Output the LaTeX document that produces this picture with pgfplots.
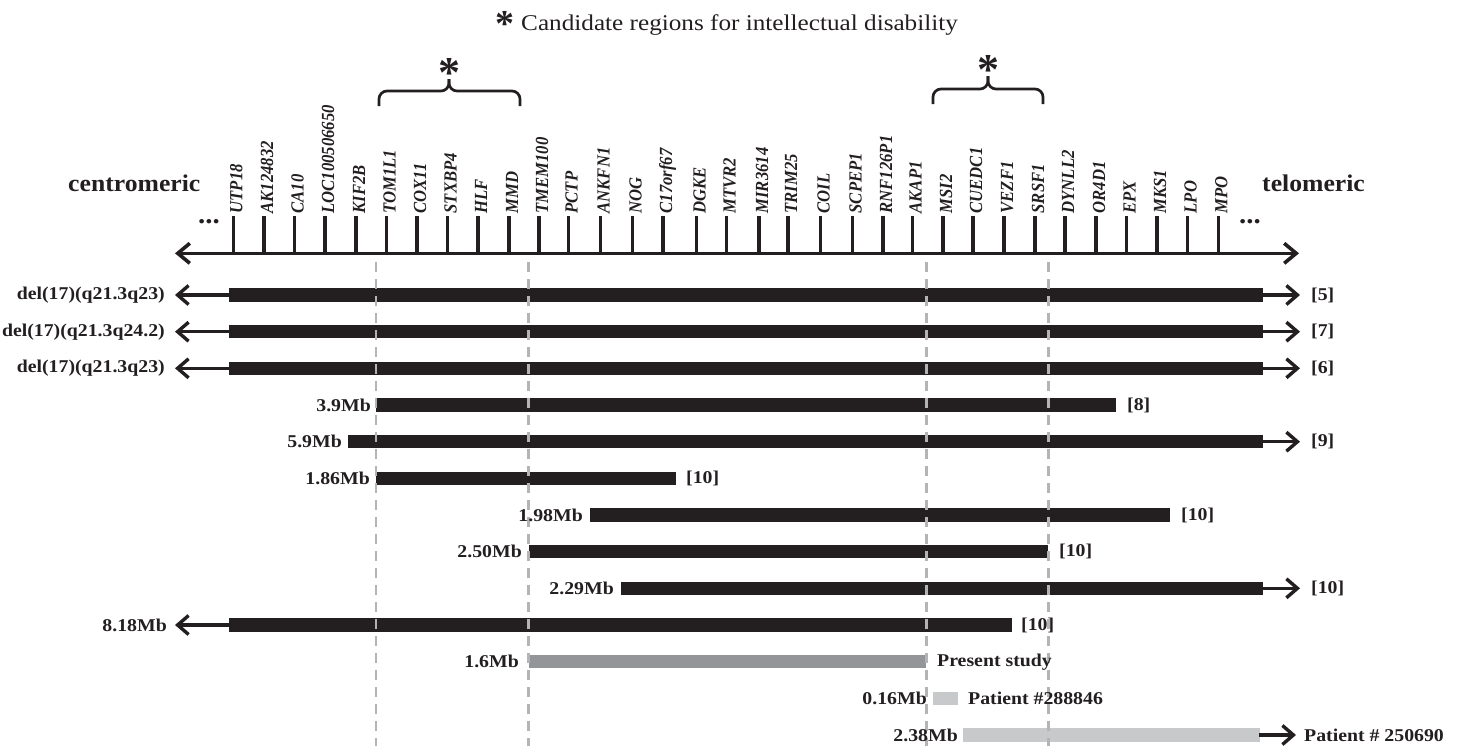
\documentclass[border=0pt]{standalone}
\usepackage{pgfplots}
\pgfplotsset{compat=1.18}
\usepackage{pgfplotstable}
\usepackage{fontspec}
\setmainfont{Liberation Serif}
\newfontfamily\hfont[FakeStretch=1.1]{Liberation Serif}
\newfontfamily\sidefont[FakeStretch=1.07]{Liberation Serif}
\newfontfamily\titlefont[FakeStretch=1.12]{Liberation Serif}
\newfontfamily\gfont[FakeStretch=0.9]{Liberation Serif}
\usetikzlibrary{arrows.meta}
\definecolor{ink}{HTML}{231F20}
\definecolor{midgray}{HTML}{939598}
\definecolor{lightbar}{HTML}{C8C9CB}
\definecolor{dashgray}{HTML}{B4B4B6}
\newcommand\rowfont{\hfont\bfseries\fontsize{18}{18}\selectfont}
\newcommand\genefont{\gfont\bfseries\itshape\fontsize{18.5}{18.5}\selectfont}

\pgfplotstableread{
x y name
233.3 216 UTP18
264.0 216 AK124832
294.7 216 CA10
325.0 216 LOC100506650
356.0 216 KIF2B
386.7 216 TOM1L1
417.0 216 COX11
447.7 216 STXBP4
478.0 216 HLF
509.0 216 MMD
539.0 216 TMEM100
568.5 216 PCTP
600.7 216 ANKFN1
632.7 216 NOG
663.0 216 C17orf67
696.7 216 DGKE
726.7 216 MTVR2
759.0 216 MIR3614
788.0 216 TRIM25
820.7 216 COIL
852.7 216 SCPEP1
883.0 216 RNF126P1
912.7 216 AKAP1
943.0 216 MSI2
973.0 216 CUEDC1
1004.0 216 VEZF1
1035.0 216 SRSF1
1065.0 216 DYNLL2
1096.0 216 OR4D1
1126.7 216 EPX
1157.0 216 MKS1
1187.7 216 LPO
1218.3 216 MPO
}\genes

\tikzset{
  barb/.tip={Straight Barb[length=11pt,width=19pt,line width=3.4pt]},
  rowarrow/.style={ink, line width=3.4pt},
  blackbar/.style={ink, line width=13.3pt},
}

\begin{document}
\begin{tikzpicture}
\begin{axis}[
  scale only axis, width=1465pt, height=746pt,
  xmin=0, xmax=1465, ymin=0, ymax=746, y dir=reverse,
  axis line style={draw=none}, xtick=\empty, ytick=\empty,
  clip=false,
]
% ---------- title ----------
\node[anchor=north, inner sep=0pt, text=ink, font=\bfseries\fontsize{38}{38}\selectfont] at (axis cs:505,11) {*};
\node[anchor=base west, inner sep=0pt, text=ink, font=\titlefont\fontsize{22.5}{22.5}\selectfont] at (axis cs:521,30) {Candidate regions for intellectual disability};

% ---------- braces ----------
\addplot[ink, line width=2.7pt, rounded corners=8pt] coordinates {(379,106) (379,91) (449,91) (449,79)};
\addplot[ink, line width=2.7pt, rounded corners=8pt] coordinates {(520,106) (520,91) (449,91) (449,79)};
\addplot[ink, line width=2.7pt, rounded corners=8pt] coordinates {(933,104) (933,89) (988,89) (988,76)};
\addplot[ink, line width=2.7pt, rounded corners=8pt] coordinates {(1043,104) (1043,89) (988,89) (988,76)};
\node[anchor=north, inner sep=0pt, text=ink, font=\bfseries\fontsize{44}{44}\selectfont] at (axis cs:449,58) {*};
\node[anchor=north, inner sep=0pt, text=ink, font=\bfseries\fontsize{44}{44}\selectfont] at (axis cs:988,55) {*};

% ---------- side labels ----------
\node[anchor=base west, inner sep=0pt, text=ink, font=\sidefont\bfseries\fontsize{24}{24}\selectfont] at (axis cs:68,191) {centromeric};
\node[anchor=base west, inner sep=0pt, text=ink, font=\sidefont\bfseries\fontsize{24}{24}\selectfont] at (axis cs:1262,191) {telomeric};
\node[anchor=base, inner sep=0pt, text=ink, font=\sidefont\bfseries\fontsize{27}{27}\selectfont] at (axis cs:209,223) {...};
\node[anchor=base, inner sep=0pt, text=ink, font=\sidefont\bfseries\fontsize{27}{27}\selectfont] at (axis cs:1250,223) {...};

% ---------- chromosome axis ----------
\addplot[ink, line width=3.6pt, {Straight Barb[length=12pt,width=20pt]}-{Straight Barb[length=12pt,width=20pt]}] coordinates {(175,253.3) (1299,253.3)};
\addplot[ink, line width=3.4pt, quiver={u=0, v=37}] table[x=x, y=y] \genes;
\addplot[draw=none, nodes near coords, point meta=explicit symbolic,
  nodes near coords style={rotate=90, anchor=base west, inner sep=0pt, font=\genefont, text=ink}]
  table[x expr=\thisrow{x}+9, y expr=213.5, meta=name] \genes;

% ---------- rows ----------
% row 1
\addplot[rowarrow, -{barb}] coordinates {(229,295) (175,295)};
\addplot[blackbar] coordinates {(229,295) (1263,295)};
\addplot[rowarrow, -{barb}] coordinates {(1262,295) (1300,295)};
% row 2
\addplot[rowarrow, -{barb}] coordinates {(229,331.7) (175,331.7)};
\addplot[blackbar] coordinates {(229,331.7) (1263,331.7)};
\addplot[rowarrow, -{barb}] coordinates {(1262,331.7) (1300,331.7)};
% row 3
\addplot[rowarrow, -{barb}] coordinates {(229,368.3) (175,368.3)};
\addplot[blackbar] coordinates {(229,368.3) (1263,368.3)};
\addplot[rowarrow, -{barb}] coordinates {(1262,368.3) (1300,368.3)};
% row 4
\addplot[blackbar] coordinates {(376,405) (1116,405)};
% row 5
\addplot[blackbar] coordinates {(348,441.7) (1263,441.7)};
\addplot[rowarrow, -{barb}] coordinates {(1262,441.7) (1300,441.7)};
% row 6
\addplot[blackbar] coordinates {(376,478.3) (676,478.3)};
% row 7
\addplot[blackbar] coordinates {(590,515) (1170,515)};
% row 8
\addplot[blackbar] coordinates {(529,551.7) (1048,551.7)};
% row 9
\addplot[blackbar] coordinates {(621,588.3) (1263,588.3)};
\addplot[rowarrow, -{barb}] coordinates {(1262,588.3) (1300,588.3)};
% row 10
\addplot[rowarrow, -{barb}] coordinates {(229,625) (175,625)};
\addplot[blackbar] coordinates {(229,625) (1012,625)};
% row 11 (present study)
\addplot[midgray, line width=13.3pt] coordinates {(529,661.7) (926,661.7)};
% row 12
\addplot[lightbar, line width=13.3pt] coordinates {(933,698.3) (958,698.3)};
% row 13
\addplot[lightbar, line width=13.3pt] coordinates {(963,735) (1260,735)};
\addplot[rowarrow, -{barb}] coordinates {(1259,735) (1296,735)};

% ---------- dashed guide lines ----------
\addplot[dashgray, line width=2.2pt, dash pattern=on 10pt off 7pt] coordinates {(376,262) (376,746)};
\addplot[dashgray, line width=2.2pt, dash pattern=on 10pt off 7pt] coordinates {(528.5,262) (528.5,746)};
\addplot[dashgray, line width=2.2pt, dash pattern=on 10pt off 7pt] coordinates {(926.5,262) (926.5,746)};
\addplot[dashgray, line width=2.2pt, dash pattern=on 10pt off 7pt] coordinates {(1048.5,262) (1048.5,746)};

% ---------- row labels ----------
\begin{scope}[every node/.style={inner sep=0pt, text=ink, font=\rowfont}]
\node[anchor=east] at (axis cs:165,295) {del(17)(q21.3q23)};
\node[anchor=east] at (axis cs:165,331.7) {del(17)(q21.3q24.2)};
\node[anchor=east] at (axis cs:165,368.3) {del(17)(q21.3q23)};
\node[anchor=east] at (axis cs:371,405) {3.9Mb};
\node[anchor=east] at (axis cs:342,441.7) {5.9Mb};
\node[anchor=east] at (axis cs:370,478.3) {1.86Mb};
\node[anchor=east] at (axis cs:583,515) {1.98Mb};
\node[anchor=east] at (axis cs:522,551.7) {2.50Mb};
\node[anchor=east] at (axis cs:614,588.3) {2.29Mb};
\node[anchor=east] at (axis cs:167,625) {8.18Mb};
\node[anchor=east] at (axis cs:519,661.7) {1.6Mb};
\node[anchor=east] at (axis cs:927,698.3) {0.16Mb};
\node[anchor=east] at (axis cs:958,735) {2.38Mb};

\node[anchor=west] at (axis cs:1311,295) {[5]};
\node[anchor=west] at (axis cs:1311,331.7) {[7]};
\node[anchor=west] at (axis cs:1311,368.3) {[6]};
\node[anchor=west] at (axis cs:1127,405) {[8]};
\node[anchor=west] at (axis cs:1311,441.7) {[9]};
\node[anchor=west] at (axis cs:686,478.3) {[10]};
\node[anchor=west] at (axis cs:1181,515) {[10]};
\node[anchor=west] at (axis cs:1059,551.7) {[10]};
\node[anchor=west] at (axis cs:1311,588.3) {[10]};
\node[anchor=west] at (axis cs:1021,625) {[10]};
\node[anchor=west] at (axis cs:937,661.7) {Present study};
\node[anchor=west] at (axis cs:968,698.3) {Patient \#288846};
\node[anchor=west] at (axis cs:1304,735) {Patient \# 250690};
\end{scope}
\end{axis}
\end{tikzpicture}
\end{document}
